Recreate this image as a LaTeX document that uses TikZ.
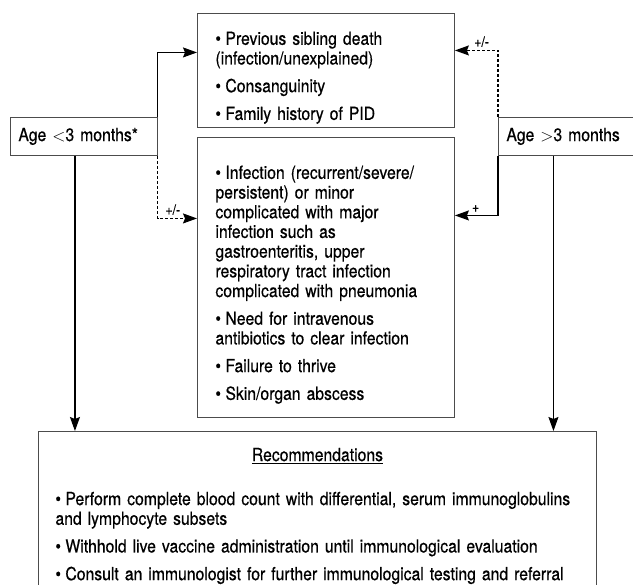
\documentclass[tikz,border=0pt]{standalone}
\usepackage{fontspec}
\setmainfont{TeX Gyre Heros}[FakeStretch=0.875, FakeBold=0.5]
\usetikzlibrary{arrows.meta}

% one bullet item with hanging indent
\newcommand\bul[1]{\par\addvspace{8pt}\noindent\hangindent=10pt\hangafter=1\makebox[10pt][l]{\textbullet}#1}

\begin{document}
\begin{tikzpicture}[x=1pt, y=-1pt, font=\fontsize{18}{19.7}\selectfont,
        box/.style={draw=black!70, line width=0.9pt, anchor=north west, inner xsep=18pt, inner ysep=0pt, text width=221pt, align=left},
        agebox/.style={draw=black!70, line width=0.9pt, anchor=north west, inner xsep=8pt, inner ysep=0pt, minimum height=38pt, align=left},
        arr/.style={-{Stealth[length=14pt, width=10pt, inset=2pt]}, line width=1.1pt},
        sign/.style={font=\fontsize{14}{16}\selectfont, inner sep=1pt}]
    \useasboundingbox (0,0) rectangle (633,585);

    \node[box, minimum height=114pt] (hist) at (197,13) {\bul{Previous sibling death\\(infection/unexplained)}\bul{Consanguinity}\bul{Family history of PID}};
    \node[box, minimum height=280pt] (signs) at (197,137) {\bul{Infection (recurrent/severe/\\persistent) or minor\\complicated with major\\infection such as\\gastroenteritis, upper\\respiratory tract infection\\complicated with pneumonia}\bul{Need for intravenous\\antibiotics to clear infection}\bul{Failure to thrive}\bul{Skin/organ abscess}};

    \node[agebox, text width=131pt] (young) at (10,117) {Age $<$3 months*};
    \node[agebox, text width=122pt] (old) at (498,117) {Age $>$3 months};

    \node[box, inner xsep=17pt, inner ysep=16.5pt, text width=524pt] (rec) at (38,431) {\makebox[\linewidth]{\underline{Recommendations}}\par\vspace{16.3pt}\bul{Perform complete blood count with differential, serum immunoglobulins\\and lymphocyte subsets}\bul{Withhold live vaccine administration until immunological evaluation}\bul{Consult an immunologist for further immunological testing and referral}};

    % left side
    \draw[arr] (young.north east) |- ([yshift=18pt]hist.west);
    \draw[arr, dash pattern=on 3pt off 2pt] (young.south east) |- ([yshift=59pt]signs.west) node[sign, pos=0.69, above=2pt] {+/-};
    \draw[arr] ([xshift=-9pt]young.south) -- ([xshift=-9pt]young.south |- rec.north);

    % right side
    \draw[arr, dash pattern=on 3pt off 2pt] (old.north west) |- ([yshift=20pt]hist.east) node[sign, pos=0.69, above=2pt] {+/-};
    \draw[arr] (old.south west) |- ([yshift=62pt]signs.east) node[sign, pos=0.76, above=2pt] {+};
    \draw[arr] ([xshift=-14pt]old.south) -- ([xshift=-14pt]old.south |- rec.north);
\end{tikzpicture}
\end{document}
